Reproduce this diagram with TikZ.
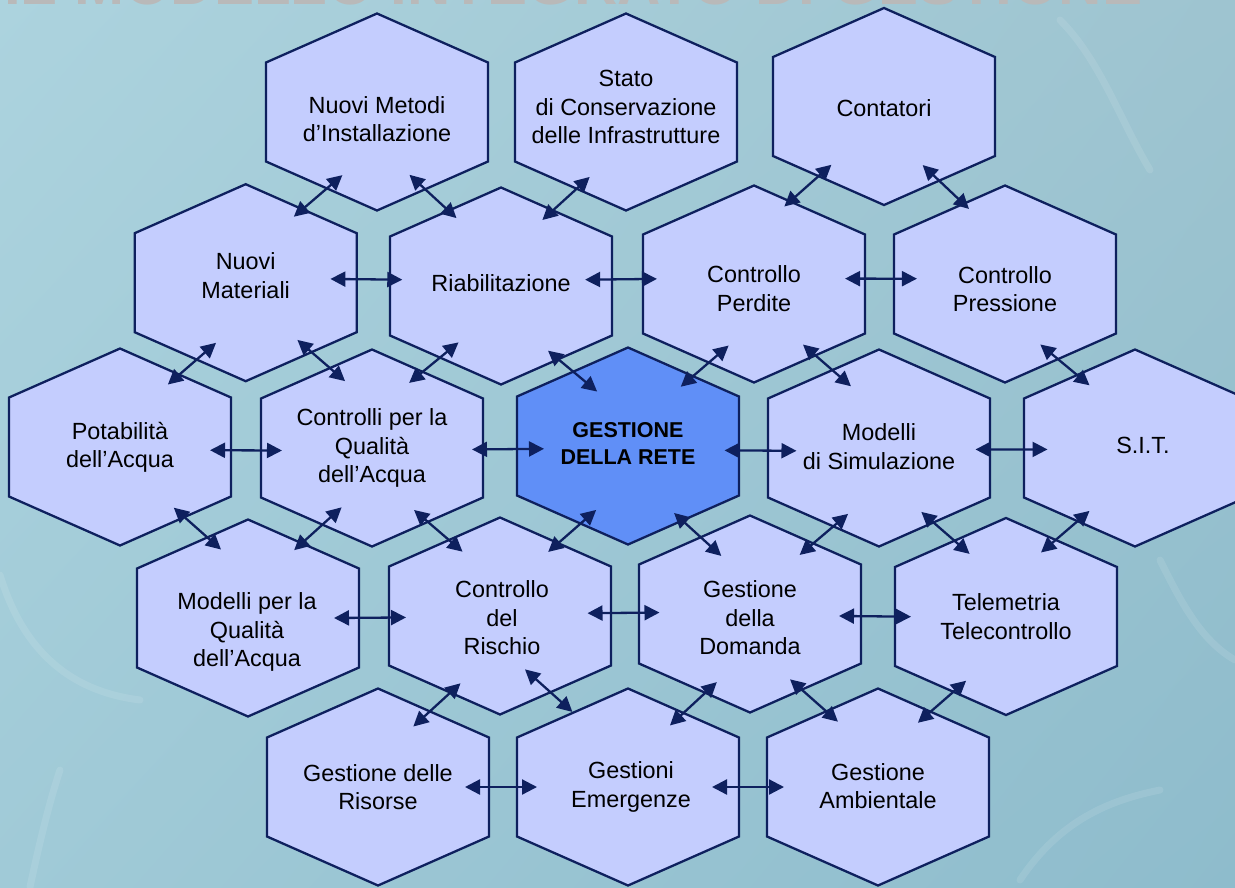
\documentclass[tikz,border=0pt]{standalone}
\usepackage{fontspec}
\setmainfont{Liberation Sans}
\usetikzlibrary{arrows.meta,calc,shadings}
\definecolor{hexfillc}{RGB}{196,205,254}
\definecolor{hexcorec}{RGB}{96,143,247}
\definecolor{navy}{RGB}{14,32,94}
\definecolor{titlegrey}{RGB}{185,185,185}
\definecolor{bgTL}{RGB}{172,211,222}
\definecolor{bgTR}{RGB}{158,196,208}
\definecolor{bgBL}{RGB}{160,202,215}
\definecolor{bgBR}{RGB}{142,188,204}
\tikzset{
  hexbody/.style={draw=navy, line width=2.3pt, fill=hexfillc, line join=miter},
  corebody/.style={hexbody, fill=hexcorec},
  anchorpt/.style={inner sep=0pt, outer sep=0pt, minimum size=0pt},
  lbl/.style={align=center, font=\fontsize{23.4}{28.5}\selectfont, text=black, inner sep=0pt},
  corelbl/.style={lbl, font=\fontsize{21.5}{27}\selectfont\bfseries},
  conn/.style={draw=navy, line width=2.3pt, {Triangle[length=15pt,width=15pt]}-{Triangle[length=15pt,width=15pt]}},
  streak/.style={draw=white, draw opacity=0.1, line width=7pt, line cap=round},
}
\newcommand\hexcell[6][hexbody]{%
  \path[#1] (#3,#4) +(0,-98.5) -- +(111,-49.5) -- +(111,49.5) -- +(0,98.5) -- +(-111,49.5) -- +(-111,-49.5) -- cycle;
  \node[anchorpt] (#2) at (#3,#4) {};
  \node[lbl] (#2-t) at ([shift={(#5)}]#2) {#6};}
% #1 offset, #2 #3 nodes, #4 rotation, #5 half length
\newcommand\hexlink[5][0,0]{%
  \coordinate (m#2#3) at ($(#2.center)!.5!(#3.center)+(#1)$);
  \draw[conn] ($(m#2#3)!#5!#4:(#2.center)$) -- ($(m#2#3)!#5!#4:(#3.center)$);}
\begin{document}
\begin{tikzpicture}[x=1pt,y=-1pt]
\useasboundingbox (0,0) rectangle (1235,887);
\clip (0,0) rectangle (1235,887);
% background
\shade[upper left=bgTL, upper right=bgTR, lower left=bgBL, lower right=bgBR] (0,0) rectangle (1235,887);
\draw[streak] (0,575) .. controls (20,640) and (60,690) .. (140,700);
\draw[streak] (30,887) .. controls (40,840) and (50,800) .. (60,770);
\draw[streak] (1160,560) .. controls (1180,600) and (1200,640) .. (1235,660);
\draw[streak] (1020,880) .. controls (1060,820) and (1110,800) .. (1160,790);
\draw[streak] (1060,20) .. controls (1100,60) and (1120,120) .. (1150,170);
% cut-off title
\node[anchor=base west, font=\fontsize{60}{60}\selectfont\bfseries, text=titlegrey, inner sep=0pt] (title) at (4,4) {IL MODELLO INTEGRATO DI GESTIONE};
% hexagons
\hexcell{nme}{377}{112}{0,7}{Nuovi Metodi\\d’Installazione}
\hexcell{sta}{626}{112}{0,-5}{Stato\\di Conservazione\\delle Infrastrutture}
\hexcell{con}{884}{106.5}{0,1.5}{Contatori}
\hexcell{nma}{245.7}{282.7}{0,-7}{Nuovi\\Materiali}
\hexcell{ria}{501}{286}{0,-3}{Riabilitazione}
\hexcell{per}{754}{284}{0,4.5}{Controllo\\Perdite}
\hexcell{pre}{1005}{284}{0,5}{Controllo\\Pressione}
\hexcell{pot}{120}{447}{0,0.5}{Potabilità\\dell’Acqua}
\hexcell{cql}{372}{448}{0,0}{Controlli per la\\Qualità\\dell’Acqua}
\path[corebody] (628,446) +(0,-98.5) -- +(111,-49.5) -- +(111,49.5) -- +(0,98.5) -- +(-111,49.5) -- +(-111,-49.5) -- cycle;
\node[anchorpt] (ges) at (628,446) {};
\node[corelbl] (ges-t) at ([shift={(0,-2.5)}]ges) {GESTIONE\\DELLA RETE};
\hexcell{msi}{879}{448}{0,-1.5}{Modelli\\di Simulazione}
\hexcell{sit}{1135}{448}{8,-3}{S.I.T.}
\hexcell{mqu}{248}{618}{-1,14}{Modelli per la\\Qualità\\dell’Acqua}
\hexcell{ris}{500}{616}{2,2}{Controllo\\del\\Rischio}
\hexcell{dom}{750}{614}{0,4}{Gestione\\della\\Domanda}
\hexcell{tel}{1006}{616.5}{0,0}{Telemetria\\Telecontrollo}
\hexcell{rso}{378}{787}{0,0}{Gestione delle\\Risorse}
\hexcell{eme}{628}{787}{3,0}{Gestioni\\Emergenze}
\hexcell{amb}{878}{787}{0,-1}{Gestione\\Ambientale}
% connectors
\hexlink[8,0]{nme}{nma}{-12}{32pt}
\hexlink[-7,-1.5]{nme}{ria}{12}{32pt}
\hexlink[3,0]{sta}{ria}{-12}{32pt}
\hexlink[-15,-14]{con}{per}{-12}{32pt}
\hexlink[3,-10]{con}{pre}{12}{32pt}
\hexlink[-7,-7]{nma}{ria}{0}{36pt}
\hexlink[-6.5,-8]{ria}{per}{0}{36pt}
\hexlink[1.5,-7.5]{per}{pre}{0}{36pt}
\hexlink[11,1]{nma}{pot}{-12}{32pt}
\hexlink[16,-9]{nma}{cql}{12}{32pt}
\hexlink[-4,-6]{ria}{cql}{-12}{32pt}
\hexlink[9,4]{ria}{ges}{12}{32pt}
\hexlink[17,5]{per}{ges}{-12}{32pt}
\hexlink[13,-3.5]{per}{msi}{12}{32pt}
\hexlink[-6,0]{pre}{sit}{12}{32pt}
\hexlink[0,4]{pot}{cql}{0}{36pt}
\hexlink[8,3]{cql}{ges}{0}{36pt}
\hexlink[7,5]{ges}{msi}{0}{36pt}
\hexlink[4.5,2]{msi}{sit}{0}{36pt}
\hexlink[17,-8]{pot}{mqu}{12}{32pt}
\hexlink[9,-3]{cql}{mqu}{-12}{32pt}
\hexlink[3,-2]{cql}{ris}{12}{32pt}
\hexlink[10,2]{ges}{ris}{-12}{32pt}
\hexlink[10,3]{ges}{dom}{12}{32pt}
\hexlink[12,6.5]{msi}{dom}{-12}{32pt}
\hexlink[3.5,0]{msi}{tel}{12}{32pt}
\hexlink[-6.5,-2]{sit}{tel}{-12}{32pt}
\hexlink[-4,1]{mqu}{ris}{0}{36pt}
\hexlink[-1.5,-3]{ris}{dom}{0}{36pt}
\hexlink[-3,1.5]{dom}{tel}{0}{36pt}
\hexlink[-2,3.5]{ris}{rso}{-12}{32pt}
\hexlink[-17,-9]{ris}{eme}{12}{32pt}
\hexlink[6,5]{dom}{eme}{-12}{32pt}
\hexlink[0,0]{dom}{amb}{12}{32pt}
\hexlink[0,0]{tel}{amb}{-12}{32pt}
\hexlink[-2,0]{rso}{eme}{0}{36pt}
\hexlink[-5,0]{eme}{amb}{0}{36pt}
\end{tikzpicture}
\end{document}
